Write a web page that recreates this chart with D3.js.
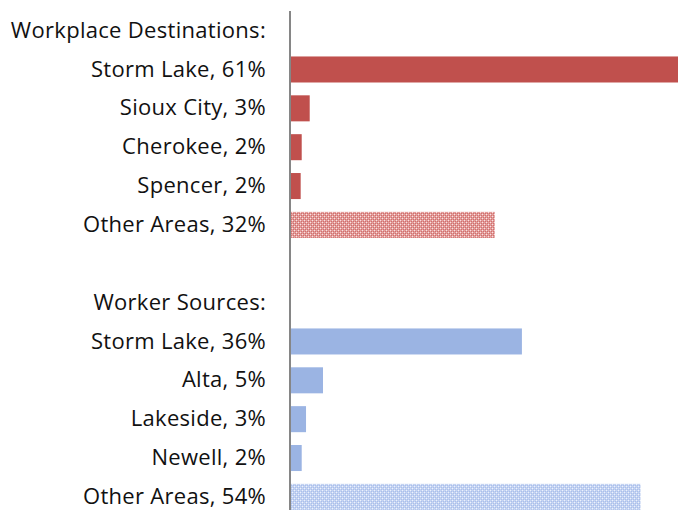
<!DOCTYPE html>
<html>
<head>
<meta charset="utf-8">
<script src="https://cdn.jsdelivr.net/npm/d3@7"></script>
<style>
  html, body { margin: 0; padding: 0; background: #fff; }
  svg { display: block; }
</style>
</head>
<body>
<svg id="chart" width="678" height="510"></svg>
<script>
// ---- data ----
const rowLabels = [
  "Workplace Destinations:",
  "Storm Lake, 61%", "Sioux City, 3%", "Cherokee, 2%", "Spencer, 2%", "Other Areas, 32%",
  "",
  "Worker Sources:",
  "Storm Lake, 36%", "Alta, 5%", "Lakeside, 3%", "Newell, 2%", "Other Areas, 54%"
];
// percent values (null = heading / spacer row)
const rowValues = [null, 61, 2.9, 1.66, 1.5, 31.6, null, null, 35.8, 4.96, 2.33, 1.66, 54.2];
// group of each row: "dest" = workplace destinations, "src" = worker sources
const rowGroups = [null, "dest", "dest", "dest", "dest", "dest", null, null, "src", "src", "src", "src", "src"];
// whether bar is the "Other Areas" hatched bar
const rowOther = [false, false, false, false, false, true, false, false, false, false, false, false, true];

// ---- layout ----
const W = 678, H = 510;
const axisX = 290;
const svg = d3.select("#chart");

const rows = rowLabels.map((label, i) => ({
  key: "r" + i, label, value: rowValues[i], group: rowGroups[i], other: rowOther[i]
}));

const y = d3.scaleBand()
  .domain(rows.map(d => d.key))
  .range([11.2, 516.3])
  .paddingInner(0.33)
  .paddingOuter(0.165);

const x = d3.scaleLinear().domain([0, 60]).range([axisX + 1, axisX + 1 + 387]);

// patterns
const defs = svg.append("defs");
function makePattern(id, dark, mid, light) {
  const p = defs.append("pattern").attr("id", id)
    .attr("patternUnits", "userSpaceOnUse").attr("width", 4).attr("height", 4);
  p.append("rect").attr("width", 4).attr("height", 4).attr("fill", mid);
  [[0,0],[2,2]].forEach(([a,b]) => p.append("rect").attr("x", a).attr("y", b).attr("width", 1).attr("height", 1).attr("fill", light));
  [[1,1],[3,3],[1,3],[3,1]].forEach(([a,b]) => p.append("rect").attr("x", a).attr("y", b).attr("width", 1).attr("height", 1).attr("fill", dark));
}
makePattern("patRed", "#d06f6d", "#e39d9b", "#f8e2e2");
makePattern("patBlue", "#aabfeb", "#c4d3f2", "#edf2fc");

const colors = {
  dest: { solid: "#C0504D", pat: "url(#patRed)" },
  src:  { solid: "#9BB4E3", pat: "url(#patBlue)" }
};

// bars
svg.append("g").selectAll("rect")
  .data(rows.filter(d => d.value != null))
  .join("rect")
  .attr("x", x(0))
  .attr("y", d => y(d.key))
  .attr("width", d => x(d.value) - x(0))
  .attr("height", y.bandwidth())
  .attr("fill", d => d.other ? colors[d.group].pat : colors[d.group].solid);

// labels via axis
const yAxis = d3.axisLeft(y)
  .tickSize(0)
  .tickPadding(24)
  .tickFormat(k => rows.find(r => r.key === k).label);

const gAxis = svg.append("g")
  .attr("transform", `translate(${axisX},0)`)
  .call(yAxis);
gAxis.select(".domain").remove();
gAxis.selectAll("text")
  .attr("font-family", "'Open Sans', 'Noto Sans', sans-serif")
  .attr("font-size", 22)
  .attr("letter-spacing", 0.3)
  .attr("fill", "#111");

// axis line
svg.append("line")
  .attr("x1", axisX).attr("x2", axisX)
  .attr("y1", 11).attr("y2", H)
  .attr("stroke", "#868686").attr("stroke-width", 2);
</script>
</body>
</html>
